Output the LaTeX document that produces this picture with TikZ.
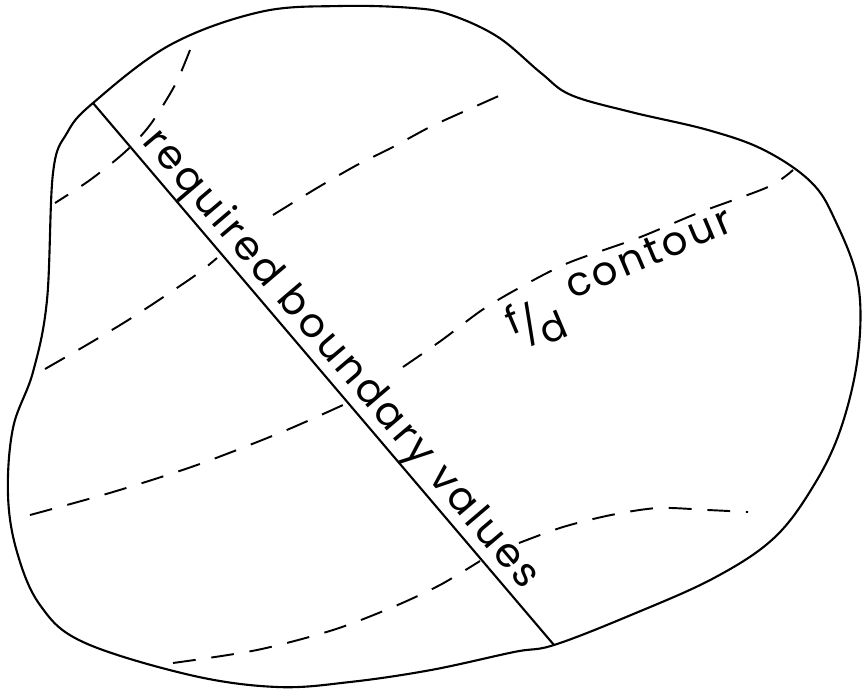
\documentclass[tikz,border=0pt]{standalone}
\usepackage{fontspec}
\setmainfont{Poppins}
\newfontfamily\widefont{Poppins}[LetterSpace=8]
\begin{document}
\begin{tikzpicture}[x=0.02cm, y=-0.02cm,
  outline/.style={line width=1.2pt, line join=round},
  contour/.style={line width=1.1pt, dash pattern=on 13pt off 9pt},
  lettering/.style={font=\widefont\fontsize{23}{28}\selectfont, inner sep=0pt}]
\useasboundingbox (0,0) rectangle (863,691);
% region
\draw[outline] plot[smooth cycle, tension=0.6] coordinates {
  (93,103) (170,45) (260,12) (340,6) (413,8) (451,15) (498,37) (541,73)
  (571,95) (631,112) (708,130) (764,150) (811,182) (835,220) (858,283)
  (858,355) (841,428) (814,485) (774,538) (714,578) (631,615) (554,645)
  (514,652) (431,670) (350,682) (277,687) (190,675) (83,642) (40,605)
  (17,552) (8,495) (13,428) (33,372) (47,300) (53,173) (67,133)};
% line with the boundary values
\coordinate (top) at (93,103);
\coordinate (bot) at (554,645);
\draw[outline] (top) -- node[lettering, sloped, pos=0.5, anchor=south] (bv) {required boundary values} (bot);
% contours
\draw[contour] plot[smooth] coordinates {(190,50) (175,85) (150,125) (125,152) (90,180) (55,203)};
\draw[contour] plot[smooth] coordinates {(45,369) (90,343) (133,317) (193,277) (217,258)};
\draw[contour] plot[smooth] coordinates {(273,215) (317,188) (357,165) (393,147) (430,127) (474,107) (501,95)};
\draw[contour] plot[smooth] coordinates {(30,515) (113,492) (197,465) (282,432) (343,405)};
\draw[contour] plot[smooth] coordinates {(403,367) (442,340) (482,310) (519,288) (568,263) (638,238) (698,213) (768,187) (793,170)};
\draw[contour] plot[smooth] coordinates {(173,663) (257,650) (333,630) (393,607) (440,585) (480,561)};
\draw[contour] plot[smooth] coordinates {(519,543) (563,527) (611,515) (658,508) (708,510) (748,512)};
% label of the contour
\node[lettering, font=\fontsize{22}{22}\selectfont, rotate=23] (fd) at (536,322) {\raisebox{.3em}{f}\kern-.05em/\kern-.05em\raisebox{-.3em}{d}};
\node[lettering, rotate=23, anchor=base west] (ct) at (572,300) {contour};
\end{tikzpicture}
\end{document}
